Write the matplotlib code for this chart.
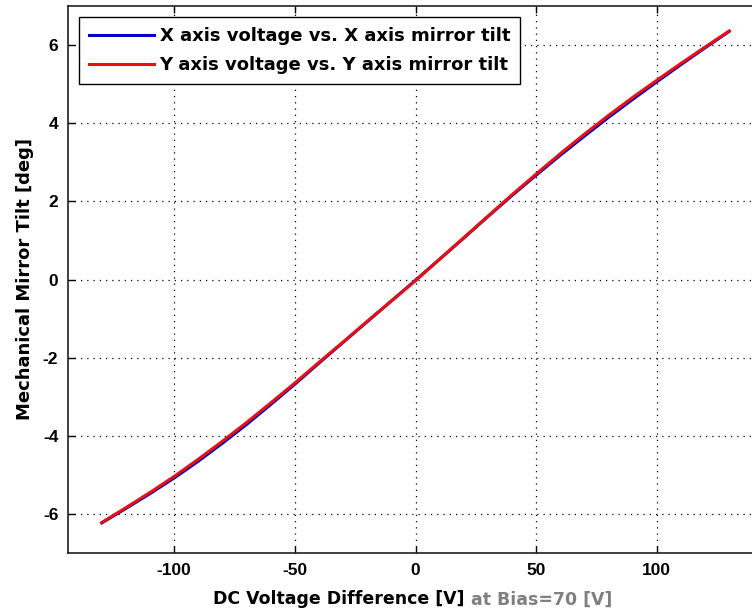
import matplotlib.pyplot as plt
import numpy as np

# DC voltage difference [V]
volts = [-130, -120, -110, -100, -90, -80, -70, -60, -50, -40, -30, -20, -10, 0,
         10, 20, 30, 40, 50, 60, 70, 80, 90, 100, 110, 120, 130]

# X axis mirror tilt [deg]
tilt_x = [-6.23, -5.86, -5.48, -5.08, -4.65, -4.19, -3.71, -3.20, -2.68, -2.14,
          -1.61, -1.08, -0.55, -0.02, 0.52, 1.06, 1.61, 2.15, 2.67, 3.18,
          3.67, 4.15, 4.61, 5.06, 5.50, 5.93, 6.35]

# Y axis mirror tilt [deg]
tilt_y = [-6.22, -5.84, -5.45, -5.04, -4.60, -4.14, -3.66, -3.16, -2.65, -2.12,
          -1.60, -1.07, -0.55, -0.03, 0.52, 1.07, 1.62, 2.17, 2.70, 3.22,
          3.72, 4.20, 4.66, 5.10, 5.53, 5.95, 6.36]

labels = ['X axis voltage vs. X axis mirror tilt',
          'Y axis voltage vs. Y axis mirror tilt']

plt.rcParams['font.family'] = ['Liberation Sans', 'DejaVu Sans']
plt.rcParams['font.weight'] = 'bold'
wide = ['DejaVu Sans']

fig = plt.figure(figsize=(7.52, 6.15), dpi=100)
# axes runs past the right edge (picture is cropped there)
ax = fig.add_axes([68 / 752, 1 - 553 / 615, (763 - 68) / 752, (553 - 6) / 615])

ax.plot(volts, tilt_x, color='#0000c8', linewidth=2.2, label=labels[0])
ax.plot(volts, tilt_y, color='#e81010', linewidth=2.2, label=labels[1])

ax.set_xlim(-144, 144)
ax.set_ylim(-7, 7)
ax.set_xticks([-100, -50, 0, 50, 100])
ax.set_yticks([-6, -4, -2, 0, 2, 4, 6])
ax.set_xticklabels(['-100', '-50', '0', '50', '100'])
ax.set_yticklabels(['-6', '-4', '-2', '0', '2', '4', '6'])

ax.grid(True, color='black', linestyle=(0, (1, 4)), linewidth=0.9)
ax.tick_params(direction='in', length=5, width=1, top=True, right=True,
               labelsize=12.5, pad=7)
for s in ax.spines.values():
    s.set_linewidth(1.2)
    s.set_color('#202020')

ax.set_ylabel('Mechanical Mirror Tilt [deg]', fontsize=13, fontweight='bold',
              family=wide, labelpad=6)

t1 = ax.text(0.2086, -0.085, 'DC Voltage Difference [V]', transform=ax.transAxes,
             ha='left', va='center', fontsize=12.5, fontweight='bold', family=wide)
ax.annotate('at Bias=70 [V]', xy=(1, 0.5), xycoords=t1, xytext=(5, 0),
            textcoords='offset points', ha='left', va='center',
            fontsize=12.5, fontweight='bold', family=wide, color='#808080')

leg = ax.legend(loc='upper left', fancybox=False, frameon=True,
                prop={'family': wide, 'size': 13, 'weight': 'bold'},
                borderaxespad=0.62, handlelength=3.6, handletextpad=0.3,
                labelspacing=0.6, borderpad=0.55)
leg.get_frame().set_edgecolor('black')
leg.get_frame().set_linewidth(1.0)
leg.get_frame().set_alpha(1)
for line in leg.get_lines():
    line.set_linewidth(2.2)

fig.savefig('out.png', dpi=100)
